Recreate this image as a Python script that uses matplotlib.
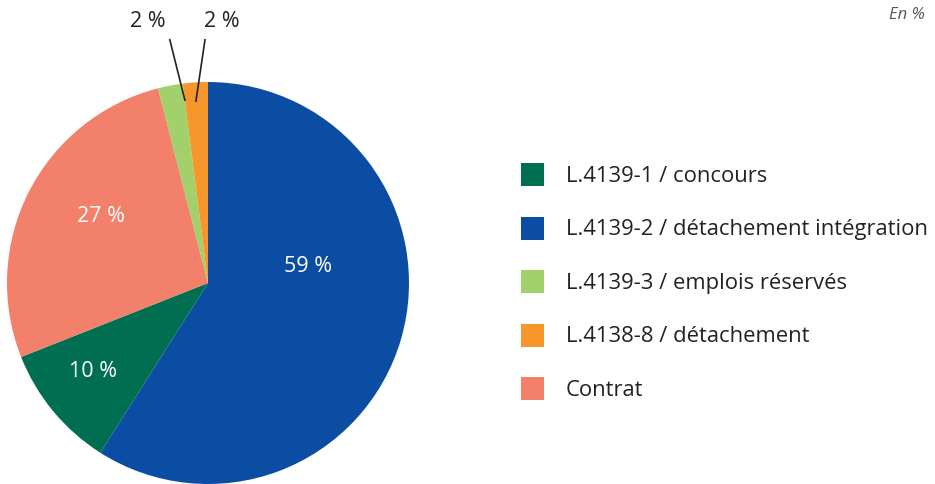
import matplotlib.pyplot as plt
from matplotlib.patches import Rectangle

# pie order (clockwise from top)
pie_labels = ["L.4139-2 / détachement intégration", "L.4139-1 / concours", "Contrat",
              "L.4139-3 / emplois réservés", "L.4138-8 / détachement"]
pie_values = [59, 10, 27, 2, 2]
pie_colors = ["#0b4da2", "#006e50", "#f2806a", "#a2d06a", "#f7962a"]

# legend order
legend_labels = ["L.4139-1 / concours", "L.4139-2 / détachement intégration",
                 "L.4139-3 / emplois réservés", "L.4138-8 / détachement", "Contrat"]

plt.rcParams['font.family'] = ['Open Sans', 'DejaVu Sans']
txt = "#222222"

W, H = 935, 484
fig = plt.figure(figsize=(W / 100, H / 100), dpi=100)

cx, cy, r = 208, 283, 201
ax = fig.add_axes([(cx - r) / W, (H - cy - r) / H, 2 * r / W, 2 * r / H])
wedges, _ = ax.pie(pie_values, colors=pie_colors, startangle=90, counterclock=False,
                   wedgeprops=dict(linewidth=0))
ax.set_xlim(-1, 1)
ax.set_ylim(-1, 1)
ax.set_aspect('equal')
ax.axis('off')

# inside labels (white)
inside_pos = {0: (0.50, 0.08), 1: (-0.57, -0.44), 2: (-0.53, 0.33)}
for i, (x, y) in inside_pos.items():
    ax.text(x, y, f"{pie_values[i]} %", color="white", fontsize=15.5,
            ha="center", va="center")

# small slices with leader lines
outside = {3: ((-0.30, 1.30), (-0.19, 1.21), (-0.115, 0.91)),
           4: ((0.07, 1.30), (-0.015, 1.21), (-0.06, 0.905))}
for i, (tp, p0, p1) in outside.items():
    ax.text(tp[0], tp[1], f"{pie_values[i]} %", color=txt, fontsize=15.5,
            ha="center", va="center", clip_on=False)
    ax.plot([p0[0], p1[0]], [p0[1], p1[1]], color=txt, lw=1.2, clip_on=False)

# legend
for k, lab in enumerate(legend_labels):
    yc = 174.5 + 53.5 * k
    c = pie_colors[pie_labels.index(lab)]
    fig.add_artist(Rectangle((521 / W, (H - yc - 11.5) / H), 23 / W, 23 / H,
                             transform=fig.transFigure, color=c, lw=0))
    fig.text(566 / W, (H - yc - 2) / H, lab, color=txt, fontsize=15.8,
             ha="left", va="center")

fig.text(925 / W, (H - 15) / H, "En %", color="#555555", fontsize=12,
         style="italic", ha="right", va="center")

fig.savefig("out.png", dpi=100)
